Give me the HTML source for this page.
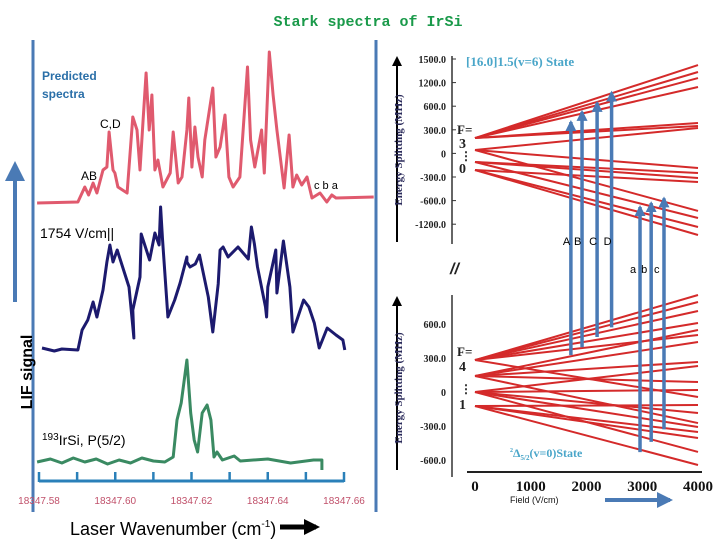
<!DOCTYPE html>
<html><head><meta charset="utf-8"><style>
html,body{margin:0;padding:0;background:#fff;}
svg{display:block;}
</style></head><body>
<svg id="fig" width="720" height="540" viewBox="0 0 720 540" xmlns="http://www.w3.org/2000/svg">
<defs>
<marker id="ah" markerWidth="11" markerHeight="11" refX="9" refY="5.5" orient="auto" markerUnits="userSpaceOnUse"><path d="M0,0 L11,5.5 L0,11 z" fill="#4a7ab5"/></marker>
<marker id="af" markerWidth="16" markerHeight="16" refX="13" refY="8" orient="auto" markerUnits="userSpaceOnUse"><path d="M0,0 L16,8 L0,16 z" fill="#4a7ab5"/></marker>
<marker id="ab" markerWidth="20" markerHeight="20" refX="16" refY="10" orient="auto" markerUnits="userSpaceOnUse"><path d="M0,0 L20,10 L0,20 z" fill="#4a7ab5"/></marker>
<marker id="ak" markerWidth="10" markerHeight="10" refX="8" refY="5" orient="auto" markerUnits="userSpaceOnUse"><path d="M0,0 L10,5 L0,10 z" fill="#000"/></marker>
<marker id="akb" markerWidth="16" markerHeight="16" refX="12" refY="8" orient="auto" markerUnits="userSpaceOnUse"><path d="M0,0 L16,8 L0,16 z" fill="#000"/></marker>
</defs>
<text x="368" y="26" text-anchor="middle" font-family="Liberation Mono, monospace" font-weight="bold" font-size="15" fill="#1a9a4a">Stark spectra of IrSi</text>
<line x1="33" y1="40" x2="33" y2="512" stroke="#4a7ab5" stroke-width="3"/>
<line x1="376" y1="40" x2="376" y2="512" stroke="#4a7ab5" stroke-width="3"/>
<line x1="15" y1="302" x2="15" y2="165" stroke="#4a7ab5" stroke-width="4" marker-end="url(#ab)"/>
<text transform="translate(32,372) rotate(-90)" text-anchor="middle" font-family="Liberation Sans, sans-serif" font-weight="bold" font-size="16" fill="#000">LIF signal</text>
<text x="42" y="80" font-family="Liberation Sans, sans-serif" font-weight="bold" font-size="12" fill="#2a6fa8">Predicted</text>
<text x="42" y="98" font-family="Liberation Sans, sans-serif" font-weight="bold" font-size="12" fill="#2a6fa8">spectra</text>
<text x="100" y="128" font-family="Liberation Sans, sans-serif" font-size="12" fill="#000">C,D</text>
<text x="81" y="180" font-family="Liberation Sans, sans-serif" font-size="12" fill="#000">AB</text>
<text x="314" y="189" font-family="Liberation Sans, sans-serif" font-size="11" fill="#000">c  b  a</text>
<text x="40" y="238" font-family="Liberation Sans, sans-serif" font-size="14" fill="#000">1754 V/cm||</text>
<text x="42" y="445" font-family="Liberation Sans, sans-serif" font-size="14" fill="#000"><tspan font-size="10" dy="-5">193</tspan><tspan dy="5">IrSi, P(5/2)</tspan></text>
<g id="spectra"></g>
<g id="xaxis"></g>
<text x="70" y="535" font-family="Liberation Sans, sans-serif" font-size="18" fill="#000">Laser Wavenumber (cm<tspan font-size="10" dy="-8">-1</tspan><tspan dy="8">)</tspan></text>
<line x1="280" y1="527" x2="316" y2="527" stroke="#000" stroke-width="5" marker-end="url(#akb)"/>
<g id="right"></g>
</svg>
<script>
// Spectra data: x in mcm-1 offset from 18347.58, intensity in px-units above baseline
const redX=[-0.5,10.2,12,13,14.2,15.2,16.8,17.8,18.4,19.4,19.9,20.7,23.1,24.6,25.7,26.5,27.3,28.1,28.9,29.6,30.4,31.2,32.5,34.4,35.2,36.5,37.5,38.8,39.3,40.1,40.9,41.7,42.8,43.5,45.6,46.4,47.5,48.8,49.8,50.9,52.7,54.7,55.5,56.6,58.4,59.1,60.4,61.4,62.4,64.3,65.6,66.6,67.6,68.9,70.3,71.6,73.7,75.5,76.8,77.9,87.8];
const redI=[0,1,16,8,20,10,33,36,71,33,30,16,10,86,73,33,83,130,73,108,33,43,16,30,71,20,26,73,105,36,76,46,26,63,115,46,56,88,26,16,26,136,63,36,73,30,151,108,73,15,68,16,28,18,26,5,10,1,8,5,6,0];
const blueX=[0.8,4,6,10.2,11.3,12.8,14.2,15.2,16.8,17.8,18.6,19.4,20.5,23.6,24.9,24.6,26.5,26.8,29,30.4,31.5,31.9,32.4,33.8,35.6,37,38.8,38.8,39.6,41,42.1,44.4,45.6,47,47.5,48.3,49.6,52.2,54.9,55.7,56.5,57.3,59.4,59.7,60,62.1,62.4,64.1,65.8,66.6,69.4,70.8,72.2,73.5,75.6,77.9,79.7,80.2];
const blueI=[9,6,8,7,27,37,55,40,67,95,112,95,107,70,19,47,80,123,97,124,112,150,118,40,57,74,100,95,90,93,102,60,25,73,107,110,100,110,98,130,113,90,50,40,70,107,64,116,70,25,57,50,34,9,29,22,17,7];
const greenX=[-0.5,3,6,9,12,15,18,21,24,27,30,33,35.2,36.2,37.3,38.8,39.8,40.7,41.6,42.8,44.1,45.1,45.9,46.7,48.1,51.2,52.8,60,66,72,74.2,74.2];
const greenI=[0,3,-1,4,0,3,-2,2,-1,4,1,0,5,42,59,102,49,22,10,49,57,42,5,10,2,6,1,3,-1,2,2,-8];
const xTicks=["18347.58","18347.60","18347.62","18347.64","18347.66"];
// Stark map data (field V/cm, energy MHz)
const fieldRange=[0,4000];
const upStart=[191,191,191,191,191,191,38,38,-115,-115,-217,38,-115,-217,-217];
const upEnd=[1123,1034,957,843,383,345,319,-191,-255,-319,-370,-740,-830,-945,-1047];
const upTicks=["1500.0","1200.0","600.0","300.0","0","-300.0","-600.0","-1200.0"];
const loStart=[282,282,282,282,141,282,141,141,0,141,0,282,-124,0,141,0,-124,-124,0,-124];
const loEnd=[856,794,715,609,547,503,441,265,229,88,18,-44,-115,-185,-274,-309,-353,-406,-529,-644];
const loTicks=[600,300,0,-300,-600];
const fieldTicks=[0,1000,2000,3000,4000];
const arrowsUpper=["A","B","C","D"];
const arrowsLower=["a","b","c"];
const arrowField=[1720,1920,2190,2450,2960,3160,3390];
const arrowTopE=[395,525,640,770,-690,-640,-580];
const arrowBotE=[325,395,485,570,-530,-440,-330];

const NS="http://www.w3.org/2000/svg";
function mk(tag,attrs,parent){const e=document.createElementNS(NS,tag);for(const k in attrs)e.setAttribute(k,attrs[k]);parent.appendChild(e);return e;}
const sx=v=>39+v*3.8125;
const sp=document.getElementById('spectra');
function drawSpec(xs,is,base,color,name){
  const pts=xs.map((v,i)=>sx(v).toFixed(1)+","+(base-is[i]).toFixed(1)).join(" ");
  const p=mk('polyline',{points:pts,fill:'none',stroke:color,'stroke-width':3,'stroke-linejoin':'round'},sp);
  
  
}
drawSpec(redX,redI,203,'#e05a6e','predicted-spectrum');
drawSpec(blueX,blueI,357,'#1c1a6e','measured-spectrum-1754');
drawSpec(greenX,greenI,462,'#3a8a62','zero-field-spectrum');
const xa=document.getElementById('xaxis');
const al=mk('line',{x1:39,y1:481,x2:344,y2:481,stroke:'#2a80b9','stroke-width':3},xa);


for(let i=0;i<=8;i++){
  const x=sx(i*10);
  const t=mk('line',{x1:x,y1:472,x2:x,y2:482,stroke:'#2a80b9','stroke-width':2.5},xa);
  
  
}
xTicks.forEach((s,i)=>{
  const t=mk('text',{x:sx(i*20),y:504,'text-anchor':'middle','font-family':'Liberation Sans, sans-serif','font-size':10,fill:'#c0506a'},xa);
  t.textContent=s;
  
  
});

const R=document.getElementById('right');
const fx=f=>475+(f-fieldRange[0])/(fieldRange[1]-fieldRange[0])*223;
const yu=e=>153-e*23.5/300;
const yl=e=>392-e*34/300;
function txt(x,y,s,attrs,name){const t=mk('text',Object.assign({x:x,y:y},attrs),R);t.textContent=s;return t;}
const serif={'font-family':'Liberation Serif, serif','font-weight':'bold'};
let a=mk('line',{x1:452,y1:56,x2:452,y2:244,stroke:'#333','stroke-width':1.5},R);


upTicks.forEach((s,i)=>{
  const y=59+i*23.6;
  txt(446,y+4,s,Object.assign({'text-anchor':'end','font-size':10,fill:'#222'},serif),'upper-y-tick-label');
  const t=mk('line',{x1:452,y1:y,x2:456,y2:y,stroke:'#333'},R);
  
  
});
a=mk('line',{x1:452,y1:295,x2:452,y2:477,stroke:'#333','stroke-width':1.5},R);


loTicks.forEach(v=>{
  const y=yl(v);
  txt(446,y+4,v===0?"0":v.toFixed(1),Object.assign({'text-anchor':'end','font-size':10,fill:'#222'},serif),'lower-y-tick-label');
});
a=mk('line',{x1:467,y1:472,x2:702,y2:472,stroke:'#222','stroke-width':2},R);


fieldTicks.forEach(f=>{
  const x=fx(f);
  txt(x,491,String(f),Object.assign({'text-anchor':'middle','font-size':15,fill:'#111'},serif),'field-tick-label');
});
txt(510,503,"Field (V/cm)",{'font-family':'Liberation Sans, sans-serif','font-size':9,fill:'#111'},'field-axis-title');
let ar=mk('line',{x1:605,y1:500,x2:670,y2:500,stroke:'#4a7ab5','stroke-width':4,'marker-end':'url(#af)'},R);


[[242,58],[470,298]].forEach(p=>{
  const l=mk('line',{x1:397,y1:p[0],x2:397,y2:p[1],stroke:'#000','stroke-width':2,'marker-end':'url(#ak)'},R);
  
  
});
const t1=txt(0,0,"Energy Splitting (MHz)",Object.assign({'text-anchor':'middle','font-size':11,fill:'#2a2a5a'},serif),'upper-y-axis-title');
t1.setAttribute('transform','translate(402,150) rotate(-90)');
const t2=txt(0,0,"Energy Splitting (MHz)",Object.assign({'text-anchor':'middle','font-size':11,fill:'#2a2a5a'},serif),'lower-y-axis-title');
t2.setAttribute('transform','translate(402,388) rotate(-90)');
txt(466,66,"[16.0]1.5(v=6) State",Object.assign({'font-size':13,fill:'#4aa6c9'},serif),'upper-state-label');
const st=txt(510,457,"",Object.assign({'font-size':12,fill:'#4aa6c9'},serif),'lower-state-label');
st.innerHTML='<tspan font-size="6" dy="-5">2</tspan><tspan dy="5">Δ</tspan><tspan font-size="7" dy="3">5/2</tspan><tspan dy="-3">(v=0)State</tspan>';
txt(457,134,"F=",Object.assign({'font-size':13,fill:'#222'},serif),'upper-f-label');
txt(459,148,"3",Object.assign({'font-size':14,fill:'#222'},serif),'upper-f-3');
txt(460,160,"⋮",Object.assign({'font-size':12,fill:'#222'},serif),'upper-f-dots');
txt(459,173,"0",Object.assign({'font-size':14,fill:'#222'},serif),'upper-f-0');
txt(457,356,"F=",Object.assign({'font-size':13,fill:'#222'},serif),'lower-f-label');
txt(459,371,"4",Object.assign({'font-size':14,fill:'#222'},serif),'lower-f-4');
txt(460,393,"⋮",Object.assign({'font-size':12,fill:'#222'},serif),'lower-f-dots');
txt(459,409,"1",Object.assign({'font-size':14,fill:'#222'},serif),'lower-f-1');
txt(450,274,"//",{'font-family':'Liberation Sans, sans-serif','font-style':'italic','font-weight':'bold','font-size':16,fill:'#222'},'axis-break');
upStart.forEach((s,i)=>{
  const l=mk('line',{x1:fx(fieldRange[0]),y1:yu(s),x2:fx(fieldRange[1]),y2:yu(upEnd[i]),stroke:'#d42a2a','stroke-width':2},R);
  
  
});
loStart.forEach((s,i)=>{
  const l=mk('line',{x1:fx(fieldRange[0]),y1:yl(s),x2:fx(fieldRange[1]),y2:yl(loEnd[i]),stroke:'#d42a2a','stroke-width':2},R);
  
  
});
arrowField.forEach((f,i)=>{
  const x=fx(f);
  const l=mk('line',{x1:x,y1:yl(arrowBotE[i]),x2:x,y2:yu(arrowTopE[i]),stroke:'#4a7ab5','stroke-width':3.5,'marker-end':'url(#ah)'},R);
  
  
});
arrowsUpper.forEach((s,i)=>{
  txt(fx(arrowField[i])-8,245,s,{'font-family':'Liberation Sans, sans-serif','font-size':11,fill:'#000'},'transition-label-upper');
});
arrowsLower.forEach((s,i)=>{
  txt(fx(arrowField[i+4])-10,273,s,{'font-family':'Liberation Sans, sans-serif','font-size':11,fill:'#000'},'transition-label-lower');
});
</script>
</body></html>
